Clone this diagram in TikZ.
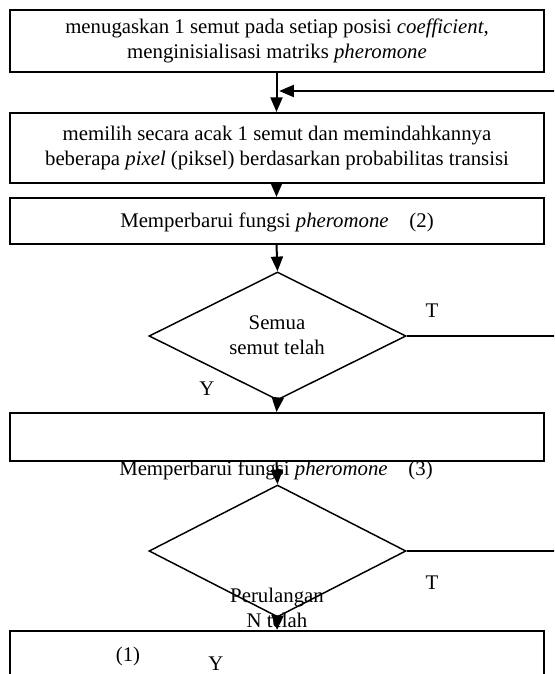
\documentclass[tikz,border=0pt]{standalone}
\usepackage{fontspec}
\setmainfont{Liberation Serif}
\usetikzlibrary{shapes.geometric,arrows.meta}
\begin{document}
\begin{tikzpicture}[x=0.75pt,y=-0.75pt,
  every node/.style={font=\fontsize{15.6pt}{18.5pt}\selectfont},
  box/.style={draw,line width=1.5pt,rectangle,minimum width=400.5pt,inner sep=0pt},
  dec/.style={draw,line width=1.1pt,diamond,inner sep=0pt,minimum width=192.75pt},
  lbl/.style={align=center,inner sep=0pt},
  arr/.style={line width=1.5pt,-{Triangle[length=11pt,width=9pt]}},
  exitline/.style={line width=0.9pt}]
\useasboundingbox (0,0) rectangle (554,674);
\clip (0,0) rectangle (554,674);
% boxes
\node[box,minimum height=46.5pt] (b1) at (276.5,41) {};
\node[lbl] (t1) at (277,41) {menugaskan 1 semut pada setiap posisi \textit{coefficient},\\menginisialisasi matriks \textit{pheromone}};
\node[box,minimum height=52.5pt] (b2) at (276.5,148) {};
\node[lbl] (t2) at (277,148) {memilih secara acak 1 semut dan memindahkannya\\beberapa \textit{pixel} (piksel) berdasarkan probabilitas transisi};
\node[box,minimum height=34.5pt] (b3) at (276.5,221) {};
\node[lbl] (t3) at (277,222) {Memperbarui fungsi \textit{pheromone}\quad(2)};
\node[dec,minimum height=96pt] (d1) at (277.5,336) {};
\node[lbl] (t4) at (277,335) {Semua\\semut telah};
\node[box,minimum height=36pt] (b4) at (276.5,437) {};
\node[lbl] (t5) at (276,470) {Memperbarui fungsi \textit{pheromone}\quad(3)};
\node[dec,minimum height=99pt] (d2) at (277.5,551) {};
\node[box,minimum height=75pt,anchor=north] (b5) at (277,630) {};
\node[lbl] (t6) at (277,608) {Perulangan\\N telah};
\node[lbl] (n1) at (128,656) {(1)};
\node[lbl] (y2) at (216,664) {Y};
\node[lbl] (ty1) at (432,311) {T};
\node[lbl] (yy1) at (207,389) {Y};
\node[lbl] (ty2) at (432,583) {T};
% connectors
\coordinate (fb) at (556,91);
\coordinate (e1) at (556,336);
\coordinate (e2) at (556,551);
\draw[arr] (b1.south) -- (b2.north);
\draw[arr] (fb) -- ([xshift=2pt]b1.south |- fb);
\draw[arr] (b2.south) -- (b3.north);
\draw[arr] (b3.south) -- (d1.north);
\draw[exitline] (d1.east) -- (e1);
\draw[arr] (d1.south) -- (b4.north);
\draw[arr] (b4.south) -- (d2.north);
\draw[exitline] (d2.east) -- (e2);
\draw[arr] (d2.south) -- (b5.north);
\end{tikzpicture}
\end{document}
